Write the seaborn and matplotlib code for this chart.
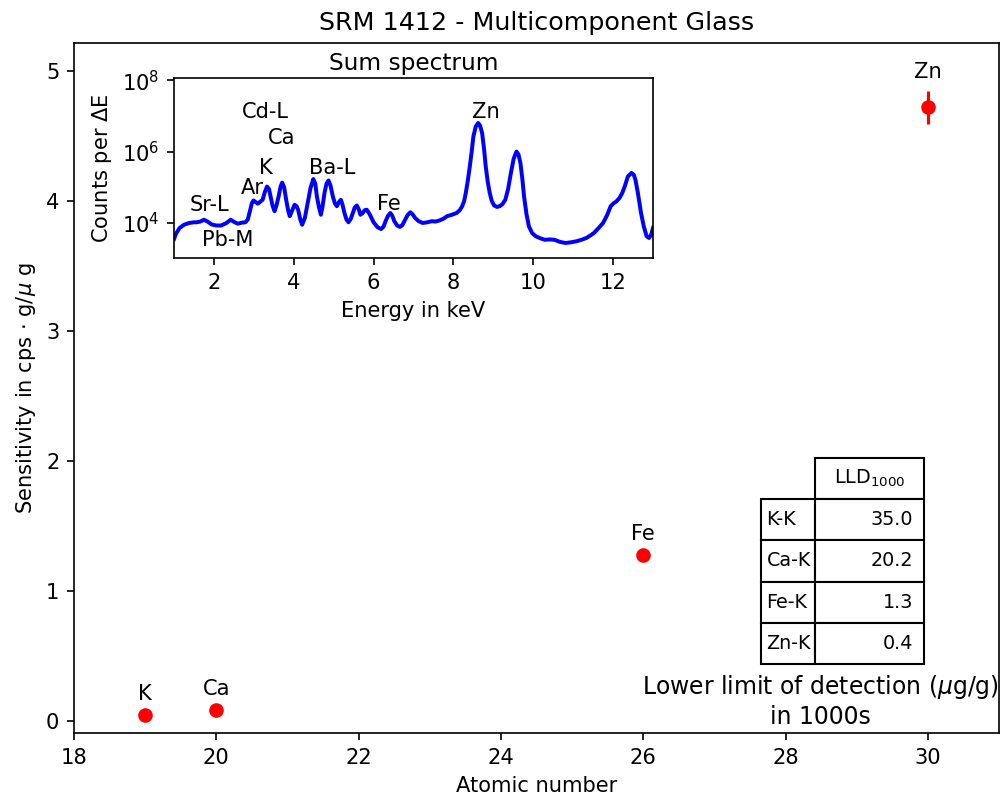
import numpy as np
import pandas as pd
import matplotlib
matplotlib.use("Agg")
import matplotlib.pyplot as plt
from matplotlib.table import Table
import seaborn as sns

# ---------------- data ----------------
elements = ["K", "Ca", "Fe", "Zn"]
atomic_number = [19, 20, 26, 30]
sensitivity = [0.046, 0.084, 1.28, 4.72]
sensitivity_err = [0.0, 0.0, 0.0, 0.127]

table_rows = ["K-K", "Ca-K", "Fe-K", "Zn-K"]
table_header = "LLD$_{1000}$"
lld_values = ["35.0", "20.2", "1.3", "0.4"]

# sum spectrum (energy in keV, log10 counts)
energy_kev = [1.00, 1.05, 1.14, 1.25, 1.38, 1.50, 1.57, 1.66, 1.75, 1.84, 1.94, 2.06, 2.18, 2.30,
              2.42, 2.52, 2.60, 2.70, 2.79, 2.85, 2.89, 2.95, 2.99, 3.05, 3.10, 3.22, 3.28, 3.33,
              3.38, 3.42, 3.47, 3.52, 3.57, 3.62, 3.67, 3.71, 3.76, 3.81, 3.86, 3.90, 3.96, 4.02,
              4.07, 4.11, 4.16, 4.21, 4.28, 4.35, 4.42, 4.49, 4.54, 4.58, 4.63, 4.68, 4.72, 4.77,
              4.82, 4.87, 4.92, 4.98, 5.03, 5.08, 5.13, 5.18, 5.22, 5.27, 5.32, 5.37, 5.43, 5.48,
              5.53, 5.58, 5.63, 5.67, 5.72, 5.78, 5.83, 5.90, 6.00, 6.10, 6.19, 6.25, 6.30, 6.36,
              6.42, 6.47, 6.52, 6.59, 6.66, 6.72, 6.77, 6.85, 6.92, 6.98, 7.04, 7.13, 7.23, 7.35,
              7.46, 7.55, 7.65, 7.75, 7.84, 7.96, 8.08, 8.16, 8.22, 8.27, 8.31, 8.36, 8.41, 8.46,
              8.50, 8.56, 8.62, 8.67, 8.72, 8.77, 8.81, 8.86, 8.91, 8.96, 9.02, 9.09, 9.16, 9.23,
              9.30, 9.37, 9.44, 9.51, 9.58, 9.63, 9.68, 9.73, 9.77, 9.83, 9.89, 9.97, 10.06, 10.18,
              10.29, 10.41, 10.53, 10.67, 10.81, 10.95, 11.09, 11.21, 11.33, 11.43, 11.52, 11.63,
              11.75, 11.85, 11.94, 12.01, 12.08, 12.16, 12.23, 12.30, 12.37, 12.46, 12.52, 12.56,
              12.62, 12.70, 12.77, 12.84, 12.90, 12.95, 13.00]
log_counts = [3.55, 3.70, 3.86, 3.95, 4.00, 4.02, 4.02, 4.04, 4.09, 4.04, 3.96, 3.93, 3.93, 3.99,
              4.09, 4.02, 3.98, 4.01, 4.02, 4.10, 4.28, 4.55, 4.63, 4.58, 4.54, 4.65, 4.88, 5.02,
              4.95, 4.74, 4.48, 4.33, 4.50, 4.74, 5.02, 5.13, 5.00, 4.65, 4.35, 4.19, 4.35, 4.51,
              4.47, 4.37, 4.12, 3.95, 4.15, 4.56, 4.98, 5.23, 5.10, 4.74, 4.45, 4.23, 4.45, 4.84,
              5.10, 5.19, 5.05, 4.74, 4.55, 4.47, 4.58, 4.65, 4.52, 4.28, 4.10, 4.02, 4.12, 4.28,
              4.44, 4.49, 4.38, 4.23, 4.27, 4.36, 4.37, 4.25, 4.02, 3.88, 3.83, 3.90, 4.05, 4.20,
              4.28, 4.20, 4.05, 3.93, 3.89, 3.94, 4.05, 4.22, 4.30, 4.24, 4.14, 4.05, 4.00, 4.02,
              4.05, 4.04, 4.07, 4.12, 4.19, 4.23, 4.28, 4.36, 4.47, 4.62, 4.84, 5.18, 5.58, 6.02,
              6.42, 6.70, 6.80, 6.72, 6.51, 6.05, 5.58, 5.15, 4.84, 4.62, 4.49, 4.45, 4.47, 4.53,
              4.65, 4.95, 5.40, 5.80, 6.00, 5.92, 5.67, 5.20, 4.74, 4.25, 3.91, 3.72, 3.63, 3.57,
              3.53, 3.54, 3.53, 3.47, 3.44, 3.46, 3.49, 3.53, 3.58, 3.65, 3.72, 3.85,
              4.00, 4.22, 4.47, 4.55, 4.60, 4.70, 4.84, 5.05, 5.30, 5.40, 5.35, 5.21,
              4.85, 4.28, 3.90, 3.63, 3.58, 3.66, 3.86]

peak_labels = ["Sr-L", "Pb-M", "Ar", "K", "Cd-L", "Ca", "Ba-L", "Fe", "Zn"]
peak_label_e = [1.88, 2.35, 2.95, 3.31, 3.30, 3.70, 4.97, 6.39, 8.82]
peak_label_log = [4.50, 3.52, 4.97, 5.54, 7.11, 6.38, 5.54, 4.52, 7.11]

# ---------------- figure ----------------
fig = plt.figure(figsize=(1000 / 150, 798 / 150), dpi=150)
ax = fig.add_axes([0.074, 0.0815, 0.925, 0.8647])

df_pts = pd.DataFrame({"Z": atomic_number, "S": sensitivity, "el": elements})
sns.scatterplot(data=df_pts, x="Z", y="S", color="red", s=49, linewidth=0, ax=ax, zorder=3)
ax.errorbar(atomic_number, sensitivity, yerr=sensitivity_err, fmt="none", ecolor="red",
            elinewidth=1.5, capsize=0, zorder=2)
for el, z, s, e in zip(elements, atomic_number, sensitivity, sensitivity_err):
    off = 10 if e == 0 else 17
    ax.annotate(el, (z, s), xytext=(0, off), textcoords="offset points",
                ha="center", va="center", fontsize=10.1)

ax.set_xlim(18, 31)
ax.set_ylim(-0.09, 5.215)
ax.set_xticks([18, 20, 22, 24, 26, 28, 30])
ax.set_yticks([0, 1, 2, 3, 4, 5])
ax.tick_params(labelsize=10.1)
ax.set_xlabel("Atomic number", fontsize=10.1)
ax.set_ylabel(r"Sensitivity in cps $\cdot$ g/$\mu$ g", fontsize=10.1)
ax.set_title("SRM 1412 - Multicomponent Glass", fontsize=12.2)

# table of lower limits of detection (bbox covers the value column incl. header)
tab = Table(ax, bbox=[0.7967, 0.1, 0.1178, 0.2986])
row_w, val_w, cell_h = 0.054, 0.109, 0.041
tab.add_cell(0, 0, width=val_w, height=cell_h, text=table_header, loc="center")
for i, (lab, val) in enumerate(zip(table_rows, lld_values), start=1):
    tab.add_cell(i, -1, width=row_w, height=cell_h, text=lab, loc="left")
    tab.add_cell(i, 0, width=val_w, height=cell_h, text=val, loc="right")
tab.auto_set_font_size(False)
tab.set_fontsize(9.2)
ax.add_table(tab)

ax.text(0.8065, 0.046, "Lower limit of detection ($\\mu$g/g)\nin 1000s",
        transform=ax.transAxes, ha="center", va="center", fontsize=11.3,
        multialignment="center")

# ---------------- inset ----------------
axin = fig.add_axes([0.174, 0.6767, 0.479, 0.2256])
df_spec = pd.DataFrame({"E": energy_kev, "C": np.power(10.0, log_counts)})
sns.lineplot(data=df_spec, x="E", y="C", color="blue", linewidth=1.9, ax=axin,
             estimator=None, sort=False)
axin.set_yscale("log")
axin.set_xlim(1, 13)
axin.set_ylim(10 ** 3.02, 10 ** 8.06)
axin.set_yticks([1e4, 1e6, 1e8])
axin.yaxis.set_minor_locator(matplotlib.ticker.NullLocator())
axin.set_xticks([2, 4, 6, 8, 10, 12])
axin.tick_params(labelsize=10.1)
axin.set_xlabel("Energy in keV", fontsize=10.1)
axin.set_ylabel(r"Counts per $\Delta$E", fontsize=10.1)
axin.set_title("Sum spectrum", fontsize=11.2, pad=4)
for lab, e, lc in zip(peak_labels, peak_label_e, peak_label_log):
    axin.text(e, 10 ** lc, lab, ha="center", va="center", fontsize=10.1)

fig.savefig("out.png", dpi=150)
